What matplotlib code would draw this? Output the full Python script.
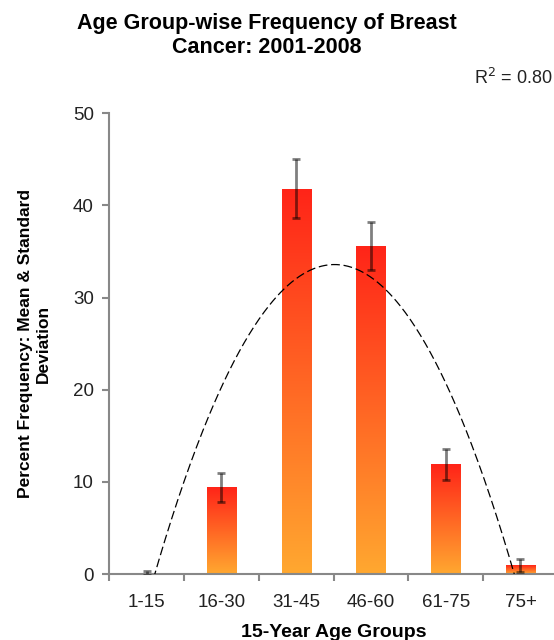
import numpy as np
import matplotlib
matplotlib.use("Agg")
import matplotlib.pyplot as plt
from matplotlib.colors import LinearSegmentedColormap
from matplotlib.patches import Rectangle

plt.rcParams['font.family'] = ['Liberation Sans', 'DejaVu Sans']

categories = ["1-15", "16-30", "31-45", "46-60", "61-75", "75+"]
means = [0.1, 9.4, 41.8, 35.6, 11.9, 0.95]
sds = [0.2, 1.6, 3.2, 2.6, 1.7, 0.7]
yticks = [0, 10, 20, 30, 40, 50]

fig = plt.figure(figsize=(5.54, 6.4), dpi=100)
ax = fig.add_axes([0.197, 0.103, 0.81, 0.720])

x = np.arange(len(categories))
bw = 0.39
cmap = LinearSegmentedColormap.from_list("rg", ["#FFA830", "#FF2418"])
grad = np.linspace(0, 1, 256).reshape(-1, 1)
for xi, m in zip(x, means):
    rect = Rectangle((xi - bw / 2, 0), bw, m, facecolor="none", edgecolor="none")
    ax.add_patch(rect)
    im = ax.imshow(grad, extent=[xi - bw / 2, xi + bw / 2, 0, m], origin="lower",
                   cmap=cmap, aspect="auto", zorder=2, interpolation="bilinear")
    im.set_clip_path(rect)

ax.errorbar(x, means, yerr=sds, fmt="none", ecolor="black", alpha=0.5,
            elinewidth=2, capsize=3, capthick=2, zorder=4)

# quadratic trend line
coef = np.polyfit(x, means, 2)
xs = np.linspace(x[0], x[-1], 300)
ax.plot(xs, np.polyval(coef, xs), color="black", lw=0.9, ls=(0, (7, 3)), zorder=3)

ax.set_xlim(-0.5, 5.5)
ax.set_ylim(0, 50)
ax.set_yticks(yticks)
ax.set_xticks(x)
ax.set_xticklabels(categories)
ax.set_xticks(np.arange(-0.5, 5.6, 1), minor=True)
ax.tick_params(axis="x", which="major", length=0, pad=14, labelsize=13.5, labelcolor="#222222")
ax.tick_params(axis="x", which="minor", length=5, width=1.5, color="#888888", direction="out")
ax.tick_params(axis="y", length=5, width=1.5, color="#888888", direction="out",
               labelsize=13.5, labelcolor="#222222", pad=6)

for s in ["top", "right"]:
    ax.spines[s].set_visible(False)
for s in ["left", "bottom"]:
    ax.spines[s].set_color("#888888")
    ax.spines[s].set_linewidth(1.5)

ax.set_xlabel("15-Year Age Groups", fontsize=14, fontweight="bold", labelpad=10)
ax.set_ylabel("Percent Frequency: Mean & Standard\nDeviation", fontsize=12.5,
              fontweight="bold", labelpad=16, linespacing=1.2)

fig.text(0.481, 0.945, "Age Group-wise Frequency of Breast\nCancer: 2001-2008",
         ha="center", va="center", fontsize=15.5, fontweight="bold", linespacing=1.2)
fig.text(0.997, 0.878, "R$^2$ = 0.80", ha="right", va="center", fontsize=13, color="#222222")

fig.savefig("out.png", dpi=100)
